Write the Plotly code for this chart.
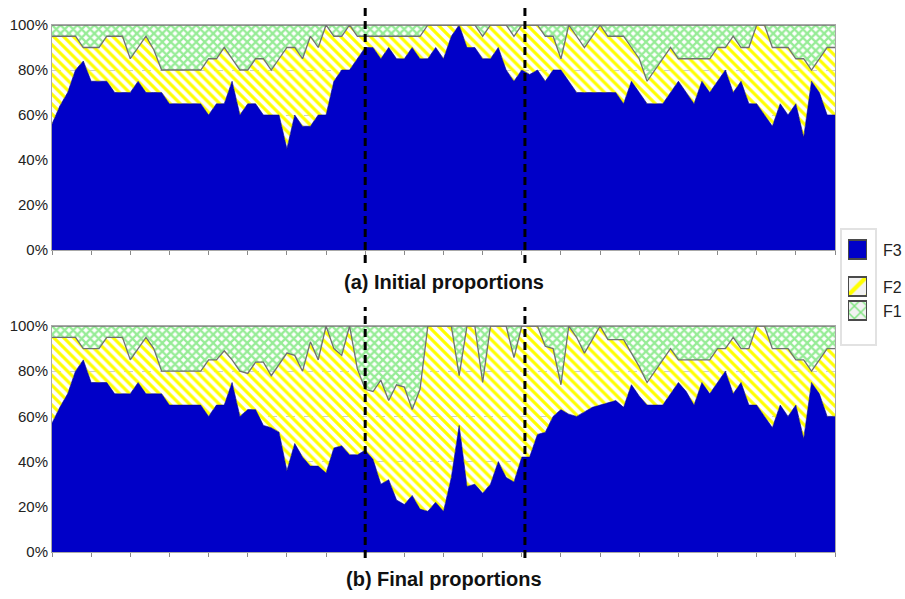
import plotly.graph_objects as go

# Sample index along the horizontal axis
steps = list(range(101))

# Initial proportions (percent) for each series
f3_initial = [56, 64, 70, 80, 84, 75, 75, 75, 70, 70, 70, 75, 70, 70, 70, 65, 65, 65, 65, 65,
              60, 65, 65, 75, 60, 65, 65, 60, 60, 60, 45, 60, 55, 55, 60, 60, 75, 80, 80, 85,
              90, 90, 85, 90, 85, 85, 90, 85, 85, 90, 85, 95, 100, 90, 90, 85, 85, 90, 80, 75,
              80, 78, 80, 75, 80, 80, 75, 70, 70, 70, 70, 70, 70, 65, 75, 70, 65, 65, 65, 70,
              75, 70, 65, 75, 70, 75, 80, 70, 75, 65, 65, 60, 55, 65, 60, 65, 50, 75, 70, 60, 60]
f2_initial = [39, 31, 25, 15, 6, 15, 15, 20, 25, 25, 15, 15, 25, 19, 10, 15, 15, 15, 15, 15,
              25, 20, 25, 10, 20, 15, 20, 25, 20, 25, 45, 30, 30, 40, 30, 40, 20, 15, 20, 10,
              5, 5, 10, 5, 10, 10, 5, 10, 15, 10, 15, 5, 0, 10, 10, 10, 15, 10, 20, 20,
              20, 22, 20, 20, 15, 5, 25, 25, 20, 25, 30, 25, 25, 30, 15, 15, 10, 15, 20, 20,
              10, 15, 20, 10, 15, 15, 10, 25, 15, 25, 35, 40, 35, 25, 30, 20, 35, 5, 15, 30, 30]
f1_initial = [5, 5, 5, 5, 10, 10, 10, 5, 5, 5, 15, 10, 5, 11, 20, 20, 20, 20, 20, 20,
              15, 15, 10, 15, 20, 20, 15, 15, 20, 15, 10, 10, 15, 5, 10, 0, 5, 5, 0, 5,
              5, 5, 5, 5, 5, 5, 5, 5, 0, 0, 0, 0, 0, 0, 0, 5, 0, 0, 0, 5,
              0, 0, 0, 5, 5, 15, 0, 5, 10, 5, 0, 5, 5, 5, 10, 15, 25, 20, 15, 10,
              15, 15, 15, 15, 15, 10, 10, 5, 10, 10, 0, 0, 10, 10, 10, 15, 15, 20, 15, 10, 10]

# Final proportions (percent) for each series
f3_final = [57, 64, 70, 80, 85, 75, 75, 75, 70, 70, 70, 75, 70, 70, 70, 65, 65, 65, 65, 65,
            60, 65, 65, 75, 60, 63, 63, 56, 55, 53, 36, 48, 42, 38, 38, 35, 46, 47, 43, 43,
            45, 41, 30, 32, 23, 21, 25, 19, 18, 22, 18, 33, 56, 29, 30, 26, 30, 40, 33, 31,
            42, 42, 52, 53, 60, 63, 61, 60, 62, 64, 65, 66, 67, 64, 74, 69, 65, 65, 65, 70,
            75, 71, 65, 75, 70, 75, 80, 70, 75, 65, 65, 60, 55, 65, 60, 65, 50, 75, 70, 60, 60]
f2_final = [38, 31, 25, 15, 5, 15, 15, 20, 25, 25, 15, 15, 25, 20, 10, 15, 15, 15, 15, 15,
            25, 20, 24, 10, 20, 16, 21, 28, 23, 30, 52, 39, 38, 55, 47, 65, 44, 40, 57, 38,
            27, 30, 46, 35, 51, 52, 38, 53, 82, 78, 82, 67, 22, 71, 70, 49, 70, 60, 67, 55,
            58, 58, 48, 38, 30, 11, 39, 35, 26, 30, 35, 28, 27, 30, 14, 13, 10, 15, 20, 20,
            10, 14, 20, 10, 15, 15, 10, 25, 15, 25, 35, 40, 35, 25, 30, 20, 35, 5, 15, 30, 30]
f1_final = [5, 5, 5, 5, 10, 10, 10, 5, 5, 5, 15, 10, 5, 10, 20, 20, 20, 20, 20, 20,
            15, 15, 11, 15, 20, 21, 16, 16, 22, 17, 12, 13, 20, 7, 15, 0, 10, 13, 0, 19,
            28, 29, 24, 33, 26, 27, 37, 28, 0, 0, 0, 0, 22, 0, 0, 25, 0, 0, 0, 14,
            0, 0, 0, 9, 10, 26, 0, 5, 12, 6, 0, 6, 6, 6, 12, 18, 25, 20, 15, 10,
            15, 15, 15, 15, 15, 10, 10, 5, 10, 10, 0, 0, 10, 10, 10, 15, 15, 20, 15, 10, 10]

series_names = ["F3", "F2", "F1"]
boundaries = [40, 60.4]
panel_titles = ["(a) Initial proportions", "(b) Final proportions"]
y_ticks = [0, 20, 40, 60, 80, 100]
y_tick_labels = ["0%", "20%", "40%", "60%", "80%", "100%"]

BLUE = "#0000C8"
YELLOW = "#FFFF00"
GREEN = "#96EC96"
EDGE = "#707070"
FONT = "Liberation Sans, Arial, sans-serif"

# Pixel geometry of the page
W, H = 905, 599
ML, MT, MB = 52, 25, 47
PW, PH = W - ML, H - MT - MB
PLOT_RIGHT = 835


def px_x(x):
    return (x - ML) / PW


def px_y(y):
    return 1 - (y - MT) / PH


fills = [
    dict(fillcolor=BLUE, line=dict(color="#00008A", width=0.6)),
    dict(fillcolor="rgba(0,0,0,0)",
         fillpattern=dict(shape="\\", fgcolor=YELLOW, bgcolor="rgba(255,255,255,0)",
                          size=7, solidity=0.45, fillmode="replace"),
         line=dict(color=EDGE, width=1.3)),
    dict(fillcolor="rgba(0,0,0,0)",
         fillpattern=dict(shape="x", fgcolor=GREEN, bgcolor="rgba(255,255,255,0)",
                          size=6, solidity=0.62, fillmode="replace"),
         line=dict(color=EDGE, width=1.3)),
]

fig = go.Figure()

panels = [
    ("x", "y", "initial", [f3_initial, f2_initial, f1_initial]),
    ("x2", "y2", "final", [f3_final, f2_final, f1_final]),
]
for xa, ya, grp, vals in panels:
    for name, v, style in zip(series_names, vals, fills):
        fig.add_trace(go.Scatter(
            x=steps, y=v, name=name, mode="lines", stackgroup=grp,
            xaxis=xa, yaxis=ya, showlegend=False, hoverinfo="skip", **style))

# Legend swatches as patterned bars on a small auxiliary axis
swatch_top = [240, 277, 301]
swatch_size = 19
legend_patterns = [
    dict(color=BLUE),
    dict(color="#f2f2f2", pattern=dict(shape="/", fgcolor=YELLOW, bgcolor="#f2f2f2",
                                       size=14, solidity=0.3, fillmode="replace")),
    dict(color="#f2f2f2", pattern=dict(shape="x", fgcolor="#7fe57f", bgcolor="#f2f2f2",
                                       size=9, solidity=0.3, fillmode="replace")),
]
for name, top, mk in zip(series_names, swatch_top, legend_patterns):
    fig.add_trace(go.Bar(
        x=[0], y=[swatch_size], base=[top], width=[1], xaxis="x3", yaxis="y3",
        marker=dict(line=dict(color="#4a4a4a", width=2), **mk),
        showlegend=False, hoverinfo="skip"))

xdom = [0, px_x(PLOT_RIGHT)]
common_x = dict(domain=xdom, range=[0, 100], showticklabels=False, ticks="outside",
                tick0=0, dtick=5, ticklen=4, tickcolor="#8a8a8a", showgrid=False,
                zeroline=False, showline=True, linecolor="#a8a8a8", mirror=True)
common_y = dict(range=[0, 100], tickmode="array", tickvals=y_ticks, ticktext=y_tick_labels,
                ticks="", showgrid=True, gridcolor="#c9cdd2", griddash="dash",
                gridwidth=1, zeroline=False, showline=True, linecolor="#a8a8a8",
                mirror=True, tickfont=dict(family=FONT, size=15, color="#222222"))

fig.update_layout(
    width=W, height=H,
    margin=dict(l=ML, r=0, t=MT, b=MB),
    paper_bgcolor="white", plot_bgcolor="white",
    showlegend=False, barmode="overlay",
    xaxis=dict(anchor="y", **common_x),
    yaxis=dict(anchor="x", domain=[px_y(250), 1], **common_y),
    xaxis2=dict(anchor="y2", **common_x),
    yaxis2=dict(anchor="x2", domain=[0, px_y(326)], **common_y),
    xaxis3=dict(anchor="y3", domain=[px_x(848), px_x(867)], range=[-0.5, 0.5],
                visible=False, fixedrange=True),
    yaxis3=dict(anchor="x3", domain=[px_y(324), px_y(236)], range=[324, 236],
                visible=False, fixedrange=True),
)

shapes = []
# Section boundaries drawn across each panel
for b in boundaries:
    shapes.append(dict(type="line", xref="x", yref="paper", x0=b, x1=b,
                       y0=px_y(263), y1=px_y(7),
                       line=dict(color="black", width=3, dash="8px,5px")))
    shapes.append(dict(type="line", xref="x2", yref="paper", x0=b, x1=b,
                       y0=px_y(558), y1=px_y(307),
                       line=dict(color="black", width=3, dash="8px,5px")))
# Legend frame
shapes.append(dict(type="rect", xref="paper", yref="paper",
                   x0=px_x(841), x1=px_x(876), y0=px_y(345), y1=px_y(229),
                   line=dict(color="#e2e2e2", width=2), fillcolor="rgba(0,0,0,0)",
                   layer="below"))
fig.update_layout(shapes=shapes)

annotations = []
for name, top in zip(series_names, swatch_top):
    annotations.append(dict(text=name, xref="paper", yref="paper",
                            x=px_x(881), y=px_y(top + swatch_size / 2 + 1),
                            xanchor="left", yanchor="middle", showarrow=False,
                            font=dict(family=FONT, size=16, color="#222222")))
for title, ypx in zip(panel_titles, [282, 579]):
    annotations.append(dict(text="<b>" + title + "</b>", xref="paper", yref="paper",
                            x=px_x((ML + PLOT_RIGHT) / 2), y=px_y(ypx),
                            xanchor="center", yanchor="middle", showarrow=False,
                            font=dict(family=FONT, size=20, color="#111111")))
fig.update_layout(annotations=annotations)

fig.write_html("out.html")
